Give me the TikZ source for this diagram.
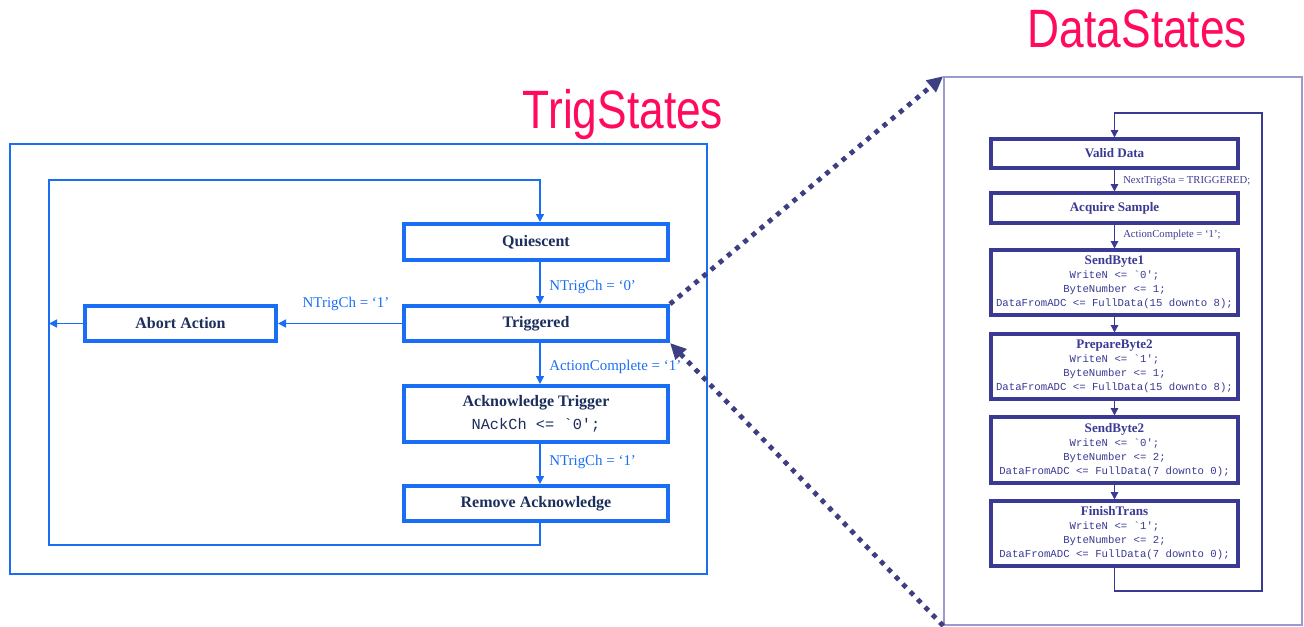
\documentclass[tikz,border=0pt]{standalone}
\usepackage{fontspec}
\usepackage{graphicx}
\setmainfont{Liberation Serif}
\setmonofont{Liberation Mono}
\newfontfamily\headfont{Liberation Sans}
\usetikzlibrary{arrows.meta}

\definecolor{trigblue}{HTML}{1A6EF5}
\definecolor{trignavy}{HTML}{1C2E5C}
\definecolor{datanavy}{HTML}{3A3A94}
\definecolor{dataframe}{HTML}{9A9ACC}
\definecolor{dotnavy}{HTML}{3E3E82}
\definecolor{titlepink}{HTML}{FF0A5E}

% body of a data state: bold name over three lines of code
\newcommand\dstatebody[4]{{\fontsize{9.8}{10.5}\selectfont\bfseries #1}\\{\ttfamily #2}\\{\ttfamily #3}\\{\ttfamily #4}}

\begin{document}
\begin{tikzpicture}[x=0.75pt,y=-0.75pt,
  frame/.style={draw=#1, line width=1.1pt, inner sep=0pt},
  tstate/.style={draw=trigblue, line width=3pt, fill=white, text=trignavy,
    font=\fontsize{12}{15}\selectfont\bfseries, inner sep=0pt,
    minimum width=198pt, align=center},
  tflow/.style={draw=trigblue, line width=1.1pt, -{Triangle[length=6pt,width=6pt]}},
  tlabel/.style={text=trigblue, font=\fontsize{11.2}{13}\selectfont, inner sep=0pt},
  dstate/.style={draw=datanavy, line width=2.3pt, fill=white, text=datanavy,
    font=\fontsize{8}{10.5}\selectfont, inner sep=0pt,
    minimum width=185.25pt, align=center},
  dflow/.style={draw=datanavy, line width=1.1pt, -{Triangle[length=5.5pt,width=5.5pt]}},
  dlabel/.style={text=datanavy, font=\fontsize{8}{10}\selectfont, inner sep=0pt},
  zoomlink/.style={draw=dotnavy, line width=3.6pt, dash pattern=on 3.6pt off 4.4pt,
    -{Triangle[length=12pt,width=11pt]}},
  heading/.style={text=titlepink, font=\headfont\fontsize{40.5}{40.5}\selectfont,
    anchor=base, inner sep=0pt}]

\useasboundingbox (0,0) rectangle (1304,626);

% ---------- titles ----------
\node[heading] (trigtitle) at (623,128) {\scalebox{0.82}[1]{TrigStates}};
\node[heading] (datatitle) at (1137.5,47) {\scalebox{0.82}[1]{DataStates}};

% ---------- TrigStates machine ----------
\node[frame=trigblue, minimum width=522.75pt, minimum height=322.5pt] (L) at (358.5,359) {};

\coordinate (ax) at (540,0);
\coordinate (ltl) at (49,180);
\coordinate (lbl) at (49,545);

\node[tstate, minimum height=27pt]    (Q) at (536,242)   {Quiescent};
\node[tstate, minimum height=26.25pt] (T) at (536,323.5) {Triggered};
\node[tstate, minimum height=26.25pt, minimum width=143.25pt] (A) at (180.5,323.5) {Abort Action};
\node[tstate, minimum height=42pt]    (K) at (536,414)
  {Acknowledge Trigger\\[2pt]{\mdseries\ttfamily\fontsize{11.5}{13}\selectfont NAckCh <= `0';}};
\node[tstate, minimum height=26.25pt] (R) at (536,503.5) {Remove Acknowledge};

\draw[tflow] (Q.south -| ax) -- (T.north -| ax);
\draw[tflow] (T.south -| ax) -- (K.north -| ax);
\draw[tflow] (K.south -| ax) -- (R.north -| ax);
\draw[tflow] (T.west) -- (A.east);
\draw[tflow] (A.west) -- (A.west -| ltl);
\draw[tflow] (R.south -| ax) |- (lbl) -- (ltl) -| (Q.north -| ax);

\node[tlabel, anchor=west] (l1) at (549,287) {NTrigCh = `0'};
\node[tlabel]              (l2) at (346,304) {NTrigCh = `1'};
\node[tlabel, anchor=west] (l3) at (549,367) {ActionComplete = `1'};
\node[tlabel, anchor=west] (l4) at (549,462) {NTrigCh = `1'};

% ---------- DataStates machine ----------
\node[frame=dataframe, line width=1.2pt, minimum width=268.5pt, minimum height=411pt] (D) at (1123,351) {};

\coordinate (rtr) at (1262,113);
\coordinate (rbr) at (1262,591);

\node[dstate, minimum height=21.75pt] (V) at (1114.5,153.5)
  {\fontsize{9.8}{10.5}\selectfont\bfseries Valid Data};
\node[dstate, minimum height=22.5pt]  (S) at (1114.5,208)
  {\fontsize{9.8}{10.5}\selectfont\bfseries Acquire Sample};
\node[dstate, minimum height=48.75pt] (B1) at (1114.5,282.5)
  {\dstatebody{SendByte1}{WriteN <= `0';}{ByteNumber <= 1;}{DataFromADC <= FullData(15 downto 8);}};
\node[dstate, minimum height=48.75pt] (P2) at (1114.5,366.5)
  {\dstatebody{PrepareByte2}{WriteN <= `1';}{ByteNumber <= 1;}{DataFromADC <= FullData(15 downto 8);}};
\node[dstate, minimum height=49.5pt]  (B2) at (1114.5,450)
  {\dstatebody{SendByte2}{WriteN <= `0';}{ByteNumber <= 2;}{DataFromADC <= FullData(7 downto 0);}};
\node[dstate, minimum height=48.75pt] (F) at (1114.5,533.5)
  {\dstatebody{FinishTrans}{WriteN <= `1';}{ByteNumber <= 2;}{DataFromADC <= FullData(7 downto 0);}};

\draw[dflow] (V) -- (S);
\draw[dflow] (S) -- (B1);
\draw[dflow] (B1) -- (P2);
\draw[dflow] (P2) -- (B2);
\draw[dflow] (B2) -- (F);
\draw[dflow] (F.south) |- (rbr) -- (rtr) -| (V.north);

\node[dlabel, anchor=west] (d1) at (1123,181) {NextTrigSta = TRIGGERED;};
\node[dlabel, anchor=west] (d2) at (1123,235) {ActionComplete = `1';};

% ---------- zoom links between the two machines ----------
\draw[zoomlink] (T.north east) -- (D.north west);
\draw[zoomlink] (D.south west) -- (T.south east);

\end{tikzpicture}
\end{document}
